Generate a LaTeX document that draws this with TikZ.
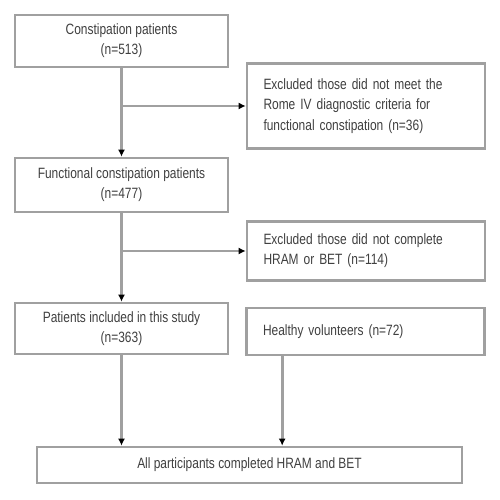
\documentclass[tikz,border=0pt]{standalone}
\usepackage{fontspec}
\setmainfont{Liberation Sans}[FakeStretch=0.8]
\usetikzlibrary{arrows.meta,calc,positioning}
\definecolor{FlowLine}{HTML}{A0A0A0}
\definecolor{FlowText}{HTML}{404040}

\begin{document}
\begin{tikzpicture}[
    font=\fontsize{8.5}{11.5}\selectfont,
    stagebox/.style={draw=FlowLine, line width=1.5pt, fill=white, align=center, text=FlowText, minimum width=4.26cm, inner sep=2pt},
    exclbox/.style={draw=FlowLine, line width=1.5pt, fill=white, align=left, text=FlowText, minimum width=4.76cm, text width=4.1cm, inner sep=2pt},
    flow/.style={-{Latex[length=4pt,width=4pt,black]}, line width=1.5pt, color=FlowLine}
  ]
    \useasboundingbox (0,0) rectangle (10,10);
    \node[stagebox, minimum height=1.04cm] (total) at (2.43,9.18) {Constipation patients\\(n=513)};
    \node[exclbox, minimum height=1.7cm] (romeout) at (7.32,7.88) {Excluded those did not meet the\\Rome IV diagnostic criteria for\\functional constipation (n=36)};
    \node[stagebox, minimum height=1.08cm] (fc) at (2.43,6.30) {Functional constipation patients\\(n=477)};
    \node[exclbox, minimum height=1.18cm] (testout) at (7.32,4.98) {Excluded those did not complete\\HRAM or BET (n=114)};
    \node[stagebox, minimum height=1.02cm] (included) at (2.43,3.43) {Patients included in this study\\(n=363)};
    \node[exclbox, minimum height=0.94cm] (healthy) at (7.31,3.37) {Healthy volunteers (n=72)};
    \node[stagebox, minimum width=8.5cm, minimum height=0.72cm] (all) at (4.99,0.70) {All participants completed HRAM and BET};

    \coordinate (hv) at ($(healthy.south west)+(0.74,0)$);

    \draw[flow] (total) -- (fc);
    \draw[flow] (total.south |- romeout.west) -- (romeout.west);
    \draw[flow] (fc) -- (included);
    \draw[flow] (fc.south |- testout.west) -- (testout.west);
    \draw[flow] (included) -- (included |- all.north);
    \draw[flow] (hv) -- (hv |- all.north);
  \end{tikzpicture}
\end{document}
